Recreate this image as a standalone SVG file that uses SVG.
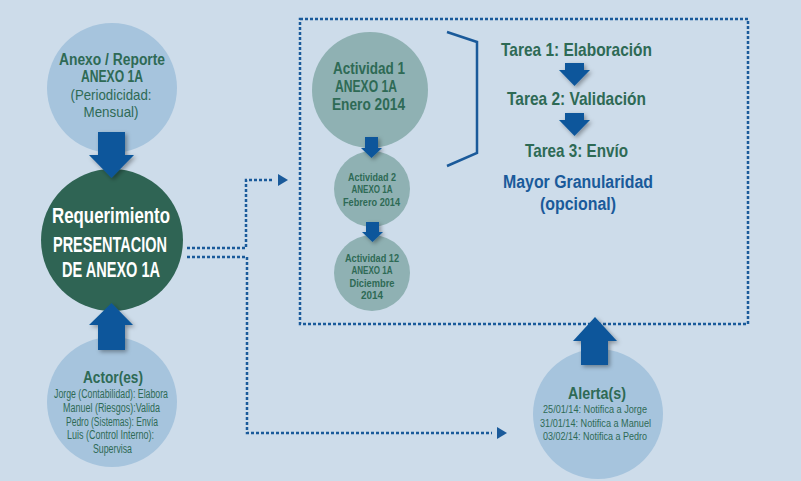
<svg xmlns="http://www.w3.org/2000/svg" width="801" height="481" viewBox="0 0 801 481">
<style>
  .bg{fill:#cddcea}
  .lb{fill:#a6c4dd}
  .gr{fill:#2f6454}
  .ac{fill:#8fb1b3}
  .arw{fill:#0b579b;filter:url(#sh)}
  .dot{fill:none;stroke:#1a5a9a;stroke-width:2.5;stroke-dasharray:3 2}
  .brk{fill:none;stroke:#1a5a9a;stroke-width:2.5}
  text{font-family:"Liberation Sans Narrow","Liberation Sans",Arial,sans-serif;text-anchor:middle}
  .b{font-weight:bold}
  .g{fill:#2e6a55}
  .w{fill:#ffffff}
  .bl{fill:#1a5a9a}
</style>
<defs>
  <filter id="sh" x="-30%" y="-30%" width="160%" height="160%">
    <feDropShadow dx="2" dy="2" stdDeviation="2" flood-color="#000" flood-opacity="0.35"/>
  </filter>
  <marker id="tri" markerUnits="userSpaceOnUse" markerWidth="16" markerHeight="12" viewBox="0 0 16 12" refX="0" refY="6" orient="auto">
    <path d="M5,0 L15,6 L5,12 Z" fill="#1a5a9a"/>
  </marker>
</defs>
<rect class="bg" x="0" y="0" width="801" height="481"/>

<g id="anexo">
  <circle class="lb" cx="112" cy="88" r="65"/>
  <text class="b g" x="112" y="65" font-size="16" textLength="106" lengthAdjust="spacingAndGlyphs">Anexo / Reporte</text>
  <text class="b g" x="112" y="82" font-size="16" textLength="62" lengthAdjust="spacingAndGlyphs">ANEXO 1A</text>
  <text class="g" x="111" y="100" font-size="15" textLength="81" lengthAdjust="spacingAndGlyphs">(Periodicidad:</text>
  <text class="g" x="111" y="117" font-size="15" textLength="55" lengthAdjust="spacingAndGlyphs">Mensual)</text>
</g>

<g id="requerimiento">
  <circle class="gr" cx="112" cy="240" r="71"/>
  <text class="b w" x="111" y="223" font-size="21.5" textLength="118" lengthAdjust="spacingAndGlyphs">Requerimiento</text>
  <text class="b w" x="110" y="252" font-size="22" textLength="114" lengthAdjust="spacingAndGlyphs">PRESENTACION</text>
  <text class="b w" x="111" y="277" font-size="22" textLength="98" lengthAdjust="spacingAndGlyphs">DE ANEXO 1A</text>
</g>

<g id="actores">
  <circle class="lb" cx="112" cy="402" r="65"/>
  <text class="b g" x="113" y="383" font-size="17" textLength="60" lengthAdjust="spacingAndGlyphs">Actor(es)</text>
  <text class="g" x="111" y="398" font-size="12.5" textLength="114" lengthAdjust="spacingAndGlyphs">Jorge (Contabilidad): Elabora</text>
  <text class="g" x="111.5" y="412" font-size="12.5" textLength="97" lengthAdjust="spacingAndGlyphs">Manuel (Riesgos):Valida</text>
  <text class="g" x="112" y="425.5" font-size="12.5" textLength="92" lengthAdjust="spacingAndGlyphs">Pedro (Sistemas): Envía</text>
  <text class="g" x="110.5" y="439" font-size="12.5" textLength="87" lengthAdjust="spacingAndGlyphs">Luis (Control Interno):</text>
  <text class="g" x="112.5" y="453" font-size="12.5" textLength="39" lengthAdjust="spacingAndGlyphs">Supervisa</text>
</g>

<g id="actividad1">
  <circle class="ac" cx="370" cy="90" r="58"/>
  <text class="b g" x="369" y="74" font-size="17" textLength="72" lengthAdjust="spacingAndGlyphs">Actividad 1</text>
  <text class="b g" x="366" y="92" font-size="17" textLength="62" lengthAdjust="spacingAndGlyphs">ANEXO 1A</text>
  <text class="b g" x="368.5" y="110" font-size="17" textLength="73" lengthAdjust="spacingAndGlyphs">Enero 2014</text>
</g>

<g id="actividad2">
  <circle class="ac" cx="372" cy="189" r="38"/>
  <text class="b g" x="372" y="181" font-size="10.5" textLength="48" lengthAdjust="spacingAndGlyphs">Actividad 2</text>
  <text class="b g" x="372" y="193" font-size="10.5" textLength="41" lengthAdjust="spacingAndGlyphs">ANEXO 1A</text>
  <text class="b g" x="371.5" y="206" font-size="10.5" textLength="57" lengthAdjust="spacingAndGlyphs">Febrero 2014</text>
</g>

<g id="actividad12">
  <circle class="ac" cx="372" cy="273" r="38"/>
  <text class="b g" x="372" y="262" font-size="10.5" textLength="54" lengthAdjust="spacingAndGlyphs">Actividad 12</text>
  <text class="b g" x="372" y="274" font-size="10.5" textLength="41" lengthAdjust="spacingAndGlyphs">ANEXO 1A</text>
  <text class="b g" x="372" y="287" font-size="10.5" textLength="45" lengthAdjust="spacingAndGlyphs">Diciembre</text>
  <text class="b g" x="372" y="299" font-size="10.5" textLength="22" lengthAdjust="spacingAndGlyphs">2014</text>
</g>

<g id="tareas">
  <text class="b g" x="576.5" y="56" font-size="19" textLength="151" lengthAdjust="spacingAndGlyphs">Tarea 1: Elaboración</text>
  <text class="b g" x="576.5" y="105" font-size="19" textLength="139" lengthAdjust="spacingAndGlyphs">Tarea 2: Validación</text>
  <text class="b g" x="576.5" y="157" font-size="19" textLength="103" lengthAdjust="spacingAndGlyphs">Tarea 3: Envío</text>
  <text class="b bl" x="578" y="188" font-size="18" textLength="150" lengthAdjust="spacingAndGlyphs">Mayor Granularidad</text>
  <text class="b bl" x="578" y="210" font-size="18" textLength="76" lengthAdjust="spacingAndGlyphs">(opcional)</text>
</g>

<g id="alertas">
  <circle class="lb" cx="598" cy="414" r="65"/>
  <text class="b g" x="597" y="399" font-size="17" textLength="58" lengthAdjust="spacingAndGlyphs">Alerta(s)</text>
  <text class="g" x="595" y="413" font-size="11.5" textLength="104" lengthAdjust="spacingAndGlyphs">25/01/14: Notifica a Jorge</text>
  <text class="g" x="595.5" y="427" font-size="11.5" textLength="111" lengthAdjust="spacingAndGlyphs">31/01/14: Notifica a Manuel</text>
  <text class="g" x="595" y="440" font-size="11.5" textLength="104" lengthAdjust="spacingAndGlyphs">03/02/14: Notifica a Pedro</text>
</g>

<g id="connectors">
  <rect class="dot" x="300" y="19" width="448" height="305"/>
  <polyline class="dot" points="187,248 246,248 246,180 273,180" marker-end="url(#tri)"/>
  <polyline class="dot" points="187,257 247,257 247,433 492,433" marker-end="url(#tri)"/>
  <polyline class="brk" points="447,32 477,42 477,153 447,166"/>
  <polygon class="arw" points="98,132 125,132 125,155 134,155 111.5,178 89,155 98,155"/>
  <polygon class="arw" points="98,350 125,350 125,325 133,325 111.5,303 89,325 98,325"/>
  <polygon class="arw" points="365,137 378,137 378,148 382,148 371.5,158 361,148 365,148"/>
  <polygon class="arw" points="366,222 379,222 379,232 383,232 372.5,242 362,232 366,232"/>
  <polygon class="arw" points="565,63 584,63 584,70 590,70 574.5,86 559,70 565,70"/>
  <polygon class="arw" points="565,113 584,113 584,120 590,120 574.5,136 559,120 565,120"/>
  <polygon class="arw" points="581,365 608,365 608,341 617,341 595,317 573,341 581,341"/>
</g>
</svg>
